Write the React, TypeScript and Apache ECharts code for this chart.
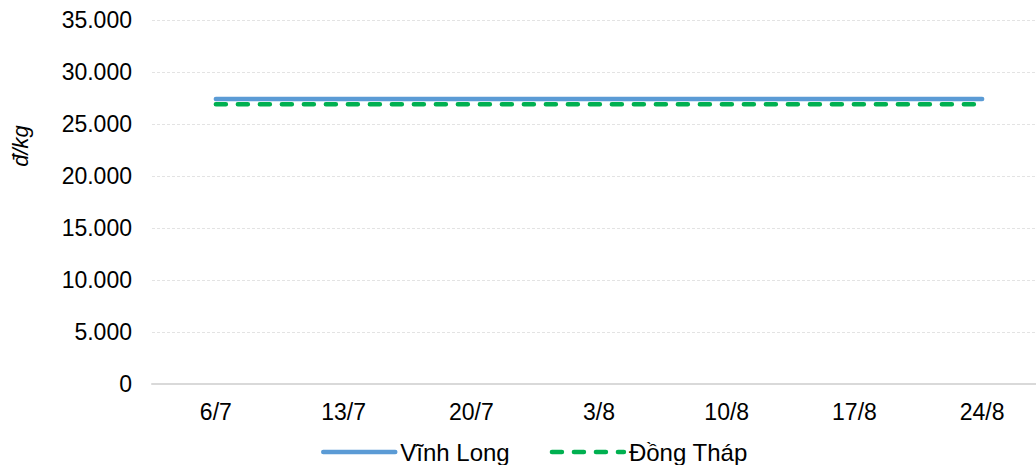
import React, { useEffect, useRef } from "react";
import * as echarts from "echarts";

const categories = ["6/7", "13/7", "20/7", "3/8", "10/8", "17/8", "24/8"];
const vinhLong = [27400, 27400, 27400, 27400, 27400, 27400, 27400];
const dongThap = [26900, 26900, 26900, 26900, 26900, 26900, 26900];
const yAxisTitle = "đ/kg";
const seriesNames = ["Vĩnh Long", "Đồng Tháp"];

const FONT = "'Liberation Sans', Arial, sans-serif";
const BLUE = "#5b9bd5";
const GREEN = "#00b050";

function fmt(v: number): string {
  return String(v).replace(/\B(?=(\d{3})+(?!\d))/g, ".");
}

export default function App() {
  const ref = useRef<HTMLDivElement>(null);
  useEffect(() => {
    if (!ref.current) return;
    const chart = echarts.init(ref.current, undefined, { renderer: "svg" });
    chart.setOption({
      animation: false,
      backgroundColor: "#ffffff",
      textStyle: { fontFamily: FONT },
      grid: { left: 152, top: 20, right: 0, height: 364, containLabel: false },
      xAxis: {
        type: "category",
        data: categories,
        boundaryGap: true,
        axisLine: { show: true, lineStyle: { color: "#d9d9d9", width: 2 } },
        axisTick: { show: false },
        axisLabel: { color: "#000", fontSize: 23, fontFamily: FONT, margin: 16 },
        splitLine: { show: false },
      },
      yAxis: {
        type: "value",
        min: 0,
        max: 35000,
        interval: 5000,
        axisLine: { show: false },
        axisTick: { show: false },
        axisLabel: {
          color: "#000",
          fontSize: 23,
          fontFamily: FONT,
          margin: 20,
          formatter: (v: number) => fmt(v),
        },
        splitLine: { show: true, lineStyle: { color: "#e3e3e3", width: 1, type: [3, 2] } },
      },
      legend: {
        top: 440,
        left: 321,
        padding: 0,
        itemWidth: 72,
        itemHeight: 24,
        itemGap: 40,
        itemStyle: { opacity: 0 },
        textStyle: { color: "#000", fontSize: 24, fontFamily: FONT },
        data: [
          { name: seriesNames[0], lineStyle: { color: BLUE, width: 4.5, cap: "round" } },
          { name: seriesNames[1], lineStyle: { color: GREEN, width: 4.5, type: [10, 12], cap: "round" } },
        ],
      },
      graphic: [
        {
          type: "text",
          x: 20,
          y: 146,
          rotation: Math.PI / 2,
          style: {
            text: yAxisTitle,
            fontSize: 22,
            fontStyle: "italic",
            fontFamily: FONT,
            fill: "#000",
            align: "center",
            verticalAlign: "middle",
          },
        },
      ],
      series: [
        {
          name: seriesNames[0],
          type: "line",
          data: vinhLong,
          showSymbol: false,
          symbol: "none",
          lineStyle: { color: BLUE, width: 4.5, cap: "round" },
          itemStyle: { color: BLUE },
        },
        {
          name: seriesNames[1],
          type: "line",
          data: dongThap,
          showSymbol: false,
          symbol: "none",
          lineStyle: { color: GREEN, width: 4.5, type: [10, 12], cap: "round" },
          itemStyle: { color: GREEN },
        },
      ],
    });
    return () => chart.dispose();
  }, []);
  return (
    <div
      style={{
        position: "absolute",
        left: 0,
        top: 0,
        width: 1036,
        height: 465,
        overflow: "hidden",
        background: "#fff",
      }}
    >
      <div ref={ref} style={{ width: 1046, height: 465 }} />
    </div>
  );
}
